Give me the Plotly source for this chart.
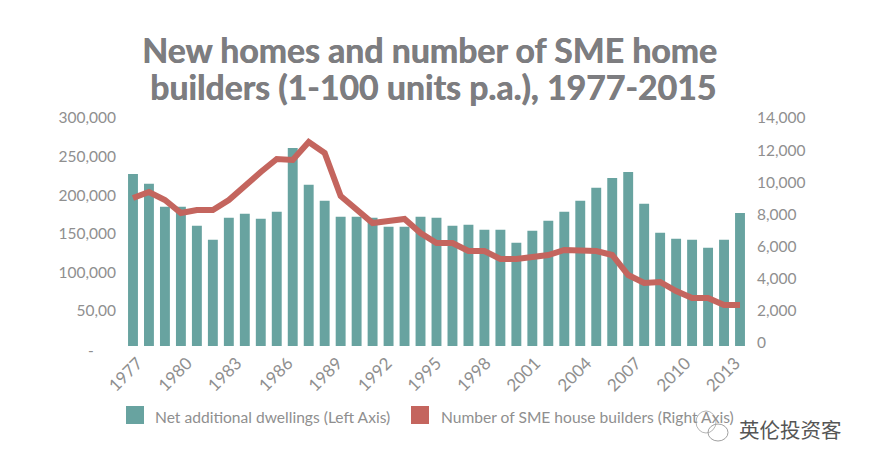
import plotly.graph_objects as go

years = list(range(1977, 2016))
dwellings = [227600, 214700, 184900, 184900, 160300, 142200, 170700, 175900, 169400, 178400,
             261200, 213400, 192700, 172000, 172000, 170700, 159000, 159000, 172000, 170700,
             160300, 161600, 155200, 155200, 138400, 153900, 166800, 178400, 192700, 209500,
             222400, 230200, 188800, 151300, 143500, 142200, 131900, 142200, 177100]
builders = [9022, 9396, 8898, 8089, 8276, 8276, 8898, 9831, 10640, 11449,
            11387, 12507, 11822, 9147, 8276, 7467, 7591, 7716, 6844, 6222,
            6222, 5724, 5724, 5227, 5227, 5351, 5476, 5787, 5787, 5724,
            5476, 4231, 3733, 3796, 3236, 2800, 2800, 2364, 2364]
tick_labels = ["1977", "1980", "1983", "1986", "1989", "1992", "1995",
               "1998", "2001", "2004", "2007", "2010", "2013"]
tick_positions = [1977.3, 1980.4, 1983.5, 1986.7, 1989.8, 1992.9, 1996.0,
                  1999.1, 2002.2, 2005.4, 2008.5, 2011.6, 2014.7]
left_ticks = [50000, 100000, 150000, 200000, 250000, 300000]
left_labels = ["50,00", "100,000", "150,000", "200,000", "250,000", "300,000"]
right_ticks = [0, 2000, 4000, 6000, 8000, 10000, 12000, 14000]

W, H = 870, 467
TEAL, RED, GREY = "#68a3a0", "#c4655e", "#8f8f8f"
FONT = "Lato"
OFFSET = 8  # the page's own margin

def px(x): return (x - OFFSET) / W
def py(y): return 1 - (y - OFFSET) / H

fig = go.Figure()
fig.add_trace(go.Bar(x=years, y=dwellings, name="Net additional dwellings (Left Axis)",
                     marker=dict(color=TEAL, line_width=0), showlegend=False))
fig.add_trace(go.Scatter(x=years, y=builders, name="Number of SME house builders (Right Axis)",
                         mode="lines", yaxis="y2", showlegend=False,
                         line=dict(color=RED, width=6)))

tick_font = dict(family=FONT, size=15.5, color=GREY)
x_tick_font = dict(family=FONT, size=17, color=GREY)
legend_font = dict(family=FONT, size=15.6, color=GREY)
title_font = dict(family=FONT, size=33.8, color="#7d7d80", weight="bold",
                  shadow="0.6px 0 0 #7d7d80")
fig.update_layout(
    width=W, height=H, autosize=False,
    paper_bgcolor="white", plot_bgcolor="white",
    margin=dict(l=0, r=0, t=0, b=0, pad=0, autoexpand=False),
    showlegend=False, bargap=0.38,
    xaxis=dict(domain=[px(125), px(748)], range=[1976.5, 2015.5], tickmode="array",
               tickvals=tick_positions, ticktext=tick_labels, tickangle=-45,
               tickfont=x_tick_font, showgrid=False, zeroline=False, showline=False,
               ticks="", automargin=False, ticklabelstandoff=3),
    yaxis=dict(domain=[py(346), py(118)], range=[4655, 300000], tickmode="array",
               tickvals=left_ticks, ticktext=left_labels, tickfont=tick_font,
               showgrid=False, zeroline=False, showline=False, ticks="", automargin=False,
               ticklabelstandoff=8),
    yaxis2=dict(overlaying="y", range=[-187, 14000], side="right",
                tickmode="array", tickvals=right_ticks, tickformat=",d", tickfont=tick_font,
                showgrid=False, zeroline=False, showline=False, ticks="", automargin=False,
                ticklabelstandoff=8),
    shapes=[
        dict(type="rect", xref="paper", yref="paper", x0=px(126), x1=px(144), y0=py(424), y1=py(406),
             fillcolor=TEAL, line_width=0),
        dict(type="rect", xref="paper", yref="paper", x0=px(411), x1=px(429), y0=py(424), y1=py(406),
             fillcolor=RED, line_width=0),
        dict(type="circle", xref="paper", yref="paper", x0=px(696), x1=px(716), y0=py(433), y1=py(411),
             line=dict(color="#b5b5b5", width=1)),
        dict(type="circle", xref="paper", yref="paper", x0=px(708), x1=px(728), y0=py(441), y1=py(424),
             line=dict(color="#a0a0a0", width=1)),
    ],
    annotations=[
        dict(text="New homes and number of SME home", x=px(429), y=py(50), xref="paper", yref="paper",
             yanchor="middle", showarrow=False, font=title_font),
        dict(text="builders (1-100 units p.a.), 1977-2015", x=px(433), y=py(87), xref="paper", yref="paper",
             yanchor="middle", showarrow=False, font=title_font),
        dict(text="-", x=px(86), y=py(350), xref="paper", yref="paper", yanchor="middle",
             showarrow=False, font=tick_font),
        dict(text="Net additional dwellings (Left Axis)", x=px(154), y=py(417), xref="paper", yref="paper",
             xanchor="left", yanchor="middle", xshift=-1, showarrow=False, font=legend_font),
        dict(text="Number of SME house builders (Right Axis)", x=px(440), y=py(417), xref="paper", yref="paper",
             xanchor="left", yanchor="middle", xshift=-1, showarrow=False, font=legend_font),
        dict(text="英伦投资客", x=px(738), y=py(429), xref="paper", yref="paper", xanchor="left",
             yanchor="middle", xshift=-1, showarrow=False,
             font=dict(family="Noto Sans CJK SC", size=20.5, color="#555555")),
    ],
)
fig.write_html("out.html")
